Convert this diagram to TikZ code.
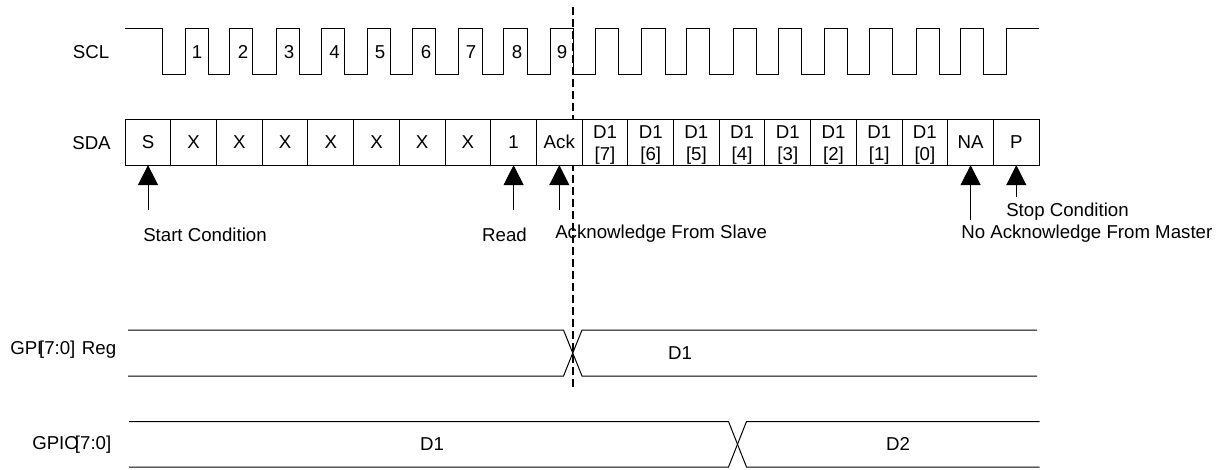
\documentclass[tikz,border=0pt]{standalone}
\usepackage{fontspec}
\setmainfont{Liberation Sans}
\usetikzlibrary{arrows.meta, positioning}
\newcommand{\dbit}[1]{\rule{0pt}{13pt}D1\\{[#1]}}

\begin{document}
\begin{tikzpicture}[x=0.75pt, y=-0.75pt, node distance=34.275pt, every node/.style={font=\fontsize{14}{16.5}\selectfont}]
    \tikzstyle{io} = [inner sep=0pt, text centered]
    \tikzstyle{cell} = [rectangle, minimum width=34.275pt, minimum height=34.2pt, inner sep=0pt, outer sep=0pt, align=center, draw=black, fill=white, line width=0.75pt]
    \tikzstyle{wave} = [line width=0.75pt, draw=black]
    \tikzstyle{arrow} = [line width=0.75pt, -{Triangle[length=15pt, width=15pt]}]

    \useasboundingbox (0,0) rectangle (1224,469);

    % clock
    \draw [wave] (125,28) -| (162,74) -| (185,28) -| (208,74) -| (229,28) -| (252,74) -| (276,28)
        -| (299,74) -| (321,28) -| (344,74) -| (367,28) -| (390,74) -| (412,28) -| (435,74) -| (458,28)
        -| (482,74) -| (503,28) -| (527,74) -| (550,28) -| (573,74) -| (595,28) -| (618,74) -| (641,28)
        -| (665,74) -| (686,28) -| (709,74) -| (733,28) -| (756,74) -| (778,28) -| (801,74) -| (824,28)
        -| (847,74) -| (869,28) -| (892,74) -| (916,28) -| (939,74) -| (960,28) -| (983,74) -| (1006,28) -- (1039,28);

    \node (scl) [io] at (91,52) {SCL};
    \node (num1) [io] at (197,52) {1};
    \node (num2) [io] at (243,52) {2};
    \node (num3) [io] at (289,52) {3};
    \node (num4) [io] at (334.5,52) {4};
    \node (num5) [io] at (380,52) {5};
    \node (num6) [io] at (426,52) {6};
    \node (num7) [io] at (471,52) {7};
    \node (num8) [io] at (517,52) {8};
    \node (num9) [io] at (562,52) {9};

    % sample point, goes under the data cells
    \coordinate (marktop) at (573,7);
    \coordinate (markbot) at (573,390);
    \draw [line width=1.2pt, dash pattern=on 6pt off 3pt] (marktop) -- (markbot);

    % data line
    \node (sda) [io] at (91.5,143) {SDA};
    \node (c1) [cell] at (148,142.3) {S};
    \node (c2) [cell, right of=c1] {X};
    \node (c3) [cell, right of=c2] {X};
    \node (c4) [cell, right of=c3] {X};
    \node (c5) [cell, right of=c4] {X};
    \node (c6) [cell, right of=c5] {X};
    \node (c7) [cell, right of=c6] {X};
    \node (c8) [cell, right of=c7] {X};
    \node (c9) [cell, right of=c8] {1};
    \node (c10) [cell, right of=c9] {Ack};
    \node (c11) [cell, right of=c10] {\dbit{7}};
    \node (c12) [cell, right of=c11] {\dbit{6}};
    \node (c13) [cell, right of=c12] {\dbit{5}};
    \node (c14) [cell, right of=c13] {\dbit{4}};
    \node (c15) [cell, right of=c14] {\dbit{3}};
    \node (c16) [cell, right of=c15] {\dbit{2}};
    \node (c17) [cell, right of=c16] {\dbit{1}};
    \node (c18) [cell, right of=c17] {\dbit{0}};
    \node (c19) [cell, right of=c18] {NA};
    \node (c20) [cell, right of=c19] {P};

    \node (startlab) [io] at (205,234.5) {Start Condition};
    \node (readlab) [io] at (504.5,234.5) {Read};
    \node (acklab) [io, anchor=west] at (555,234) {Acknowledge From Slave};
    \node (stoplab) [io, anchor=west] at (1006,212) {Stop Condition};
    \node (nacklab) [io, anchor=west] at (961,234) {No Acknowledge From Master};

    \path (c1.south) ++(0,45) coordinate (starttail);
    \path (c9.south) ++(0,45) coordinate (readtail);
    \path (c10.south) ++(0,45) coordinate (acktail);
    \path (c19.south) ++(0,55) coordinate (nacktail);
    \path (c20.south) ++(0,32) coordinate (stoptail);
    \draw [arrow] (starttail) -- (c1.south);
    \draw [arrow] (readtail) -- (c9.south);
    \draw [arrow] (acktail) -- (c10.south);
    \draw [arrow] (nacktail) -- (c19.south);
    \draw [arrow] (stoptail) -- (c20.south);

    % register
    \node (reg) [io, anchor=west] at (10,350) {GPI\kern-2.5pt[7:0]\kern1pt\ Reg};
    \draw [wave] (128,330) -- (563.5,330) -- (582,376) -- (1037,376);
    \draw [wave] (128,376) -- (563.5,376) -- (582,330) -- (1037,330);
    \node (regval) [io] at (680,353) {D1};

    % pins
    \node (gpio) [io, anchor=west] at (32,444.5) {GPIO\kern-3pt[7:0]};
    \draw [wave] (129,421.5) -- (728.5,421.5) -- (746.5,467) -- (1039.5,467);
    \draw [wave] (129,467) -- (728.5,467) -- (746.5,421.5) -- (1039.5,421.5);
    \node (gpioa) [io] at (432,444) {D1};
    \node (gpiob) [io] at (898,444) {D2};
\end{tikzpicture}
\end{document}
